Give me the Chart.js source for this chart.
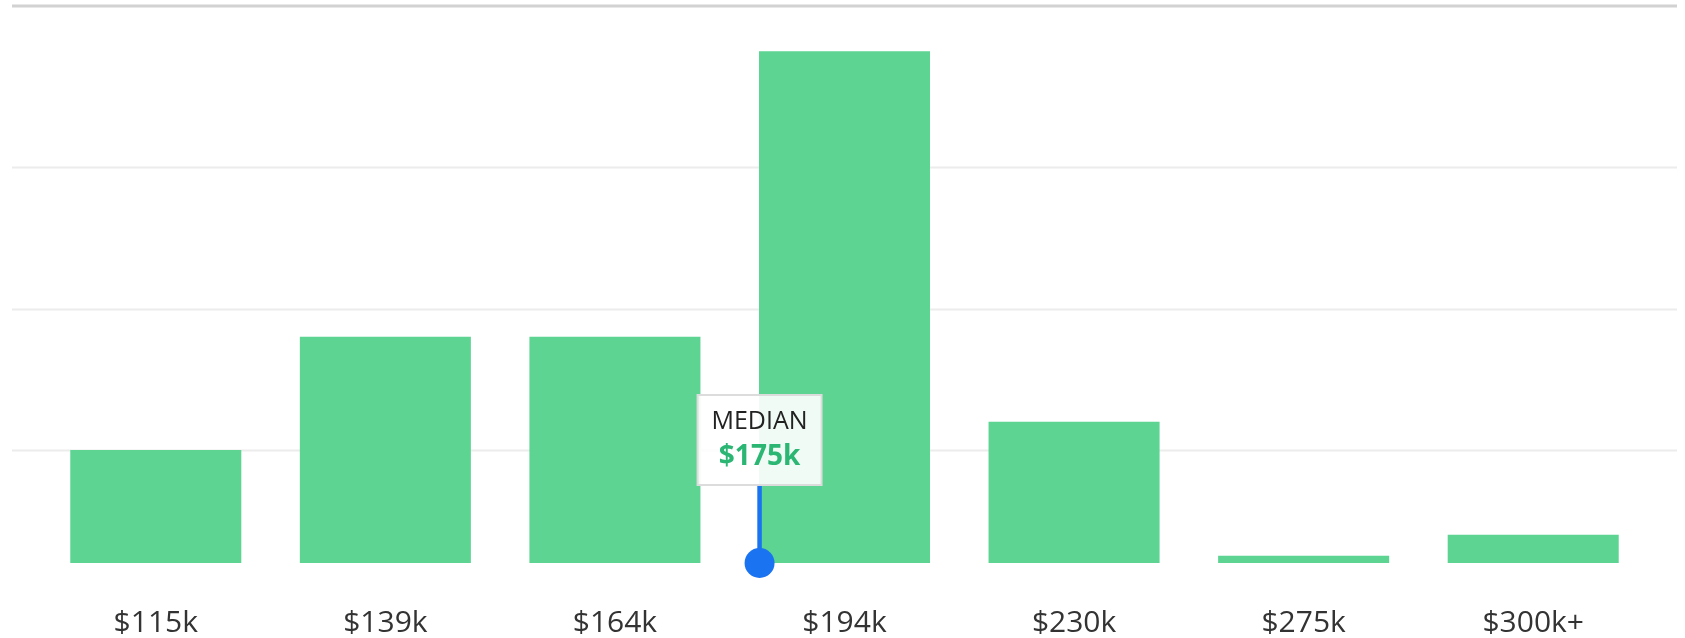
<!DOCTYPE html>
<html lang="en">
<head>
  <meta charset="UTF-8">
  <title>Price distribution</title>
  <script src="https://cdn.jsdelivr.net/npm/chart.js"></script>
  <style>
    body { margin: 0; background: #fff; font-family: "Open Sans", sans-serif; }
    .chart-container { width: 1685px; height: 638px; position: relative; }
  </style>
</head>
<body>
  <div class="chart-container">
    <canvas id="priceChart"></canvas>
  </div>

  <script>
    // price buckets and how many listings fall in each
    const priceLabels = ['$115k', '$139k', '$164k', '$194k', '$230k', '$275k', '$300k+'];
    const listingCounts = [4, 8, 8, 18.1, 5, 0.26, 1];
    const gridValues = [4, 9, 14];
    const yMax = 19.7;
    // median marker sits between the 3rd and 4th bucket
    const medianPosition = 2.63;
    const medianText = 'MEDIAN';
    const medianValue = '$175k';

    // horizontal guide lines run wider than the bar area
    const guideLines = {
      id: 'guideLines',
      beforeDatasetsDraw(chart) {
        const ctx = chart.ctx;
        const y = chart.scales.y;
        ctx.save();
        gridValues.forEach(v => {
          const py = Math.round(y.getPixelForValue(v)) + 0.5;
          ctx.strokeStyle = '#ececec';
          ctx.lineWidth = 2;
          ctx.beginPath();
          ctx.moveTo(12, py);
          ctx.lineTo(1677, py);
          ctx.stroke();
        });
        const top = y.getPixelForValue(yMax);
        ctx.strokeStyle = '#d2d2d2';
        ctx.lineWidth = 3;
        ctx.beginPath();
        ctx.moveTo(12, top);
        ctx.lineTo(1677, top);
        ctx.stroke();
        ctx.restore();
      }
    };

    // median pin with label box
    const medianMarker = {
      id: 'medianMarker',
      afterDatasetsDraw(chart) {
        const ctx = chart.ctx;
        const px = chart.scales.x.getPixelForValue(medianPosition);
        const py = chart.scales.y.getPixelForValue(0);
        const boxW = 124, boxH = 90;
        const boxBottom = py - 78;
        ctx.save();
        // stem
        ctx.strokeStyle = '#1a73f0';
        ctx.lineWidth = 4.5;
        ctx.beginPath();
        ctx.moveTo(px, boxBottom);
        ctx.lineTo(px, py);
        ctx.stroke();
        // dot
        ctx.fillStyle = '#1a73f0';
        ctx.beginPath();
        ctx.arc(px, py, 15, 0, Math.PI * 2);
        ctx.fill();
        // box
        ctx.fillStyle = 'rgba(255,255,255,0.9)';
        ctx.fillRect(px - boxW / 2, boxBottom - boxH, boxW, boxH);
        ctx.strokeStyle = '#dcdcdc';
        ctx.lineWidth = 2;
        ctx.strokeRect(px - boxW / 2, boxBottom - boxH, boxW, boxH);
        ctx.textAlign = 'center';
        ctx.textBaseline = 'middle';
        ctx.fillStyle = '#222';
        ctx.font = '25px "Open Sans"';
        ctx.fillText(medianText, px, boxBottom - boxH + 27);
        ctx.fillStyle = '#2bb673';
        ctx.font = 'bold 28px "Open Sans"';
        ctx.fillText(medianValue, px, boxBottom - boxH + 62);
        ctx.restore();
      }
    };

    const ctx = document.getElementById('priceChart').getContext('2d');
    new Chart(ctx, {
      type: 'bar',
      data: {
        labels: priceLabels,
        datasets: [{
          data: listingCounts,
          backgroundColor: '#5dd492',
          borderWidth: 0,
          categoryPercentage: 1,
          barPercentage: 0.745
        }]
      },
      options: {
        responsive: true,
        maintainAspectRatio: false,
        animation: false,
        layout: { padding: { left: 41, right: 37, top: 6, bottom: 0 } },
        plugins: {
          legend: { display: false },
          tooltip: { enabled: false }
        },
        scales: {
          x: {
            grid: { display: false, drawTicks: false },
            border: { display: false },
            afterFit: axis => { axis.height = 75; },
            ticks: {
              color: '#333',
              padding: 42,
              font: { family: 'Open Sans', size: 30 }
            }
          },
          y: {
            display: false,
            min: 0,
            max: yMax
          }
        }
      },
      plugins: [guideLines, medianMarker]
    });
  </script>
</body>
</html>
